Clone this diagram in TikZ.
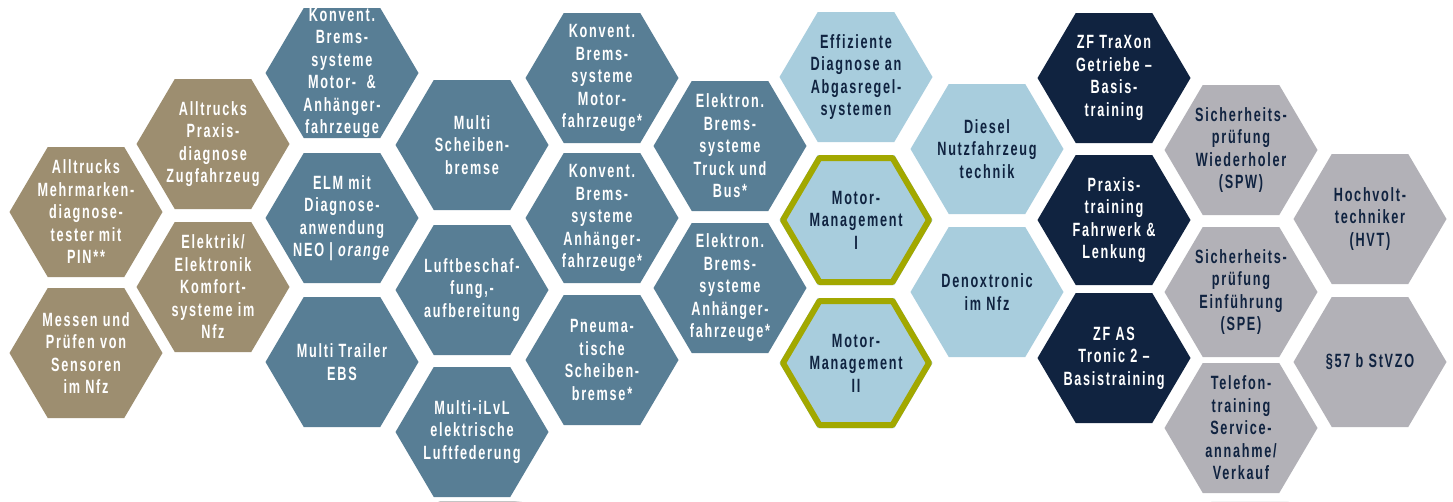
\documentclass[tikz,border=0pt]{standalone}
\usepackage{fontspec}
\setmainfont{Liberation Sans}[FakeStretch=0.66, LetterSpace=9]
\definecolor{tanc}{RGB}{157,142,112}
\definecolor{steelc}{RGB}{88,126,149}
\definecolor{lightc}{RGB}{168,205,221}
\definecolor{navyc}{RGB}{16,35,64}
\definecolor{grayc}{RGB}{178,177,183}
\definecolor{olivec}{RGB}{162,168,0}
\pgfdeclarelayer{shadowlayer}
\pgfsetlayers{shadowlayer,main}
\tikzset{
  hexlabel/.style={align=center, font=\bfseries\fontsize{19.2}{22.5}\selectfont, inner sep=0pt},
  tanhex/.style={fill=tanc},
  steelhex/.style={fill=steelc},
  lighthex/.style={fill=lightc},
  navyhex/.style={fill=navyc},
  grayhex/.style={fill=grayc},
  ringline/.style={draw=olivec, line width=6pt, line join=round},
}
\newcommand{\hexcell}[6]{%
  \begin{scope}[shift={(#2,#3)}]
    \begin{pgfonlayer}{shadowlayer}
      \foreach \s/\o in {9/0.04,8/0.045,7/0.05,6/0.055,5/0.06,4/0.06,3/0.06,2/0.06}{
        \fill[black,opacity=\o] (-76.5+\s,\s) -- (-38.25+\s,-65+\s) -- (38.25+\s,-65+\s) -- (76.5+\s,\s) -- (38.25+\s,65+\s) -- (-38.25+\s,65+\s) -- cycle;}
    \end{pgfonlayer}
    \fill[#4] (-76.5,0) -- (-38.25,-65) -- (38.25,-65) -- (76.5,0) -- (38.25,65) -- (-38.25,65) -- cycle;
    \node[hexlabel, text=#5] (#1) at (0,0) {#6};
  \end{scope}}
\newcommand{\hexring}[2]{%
  \begin{scope}[shift={(#1,#2)}]
    \draw[ringline] (-73,0) -- (-36.5,-62) -- (36.5,-62) -- (73,0) -- (36.5,62) -- (-36.5,62) -- cycle;
  \end{scope}}
\begin{document}
\begin{tikzpicture}[x=1pt,y=-1pt]
\useasboundingbox (0,0) rectangle (1453,501);
\fill[white] (0,0) rectangle (1453,501);
% column 0
\hexcell{a1}{86}{212}{tanhex}{white}{Alltrucks\\Mehrmarken-\\diagnose-\\tester mit\\PIN**}
\hexcell{a2}{86}{353}{tanhex}{white}{Messen und\\Prüfen von\\Sensoren\\im Nfz}
% column 1
\hexcell{b1}{213}{144}{tanhex}{white}{Alltrucks\\Praxis-\\diagnose\\Zugfahrzeug}
\hexcell{b2}{213}{287}{tanhex}{white}{Elektrik/\\Elektronik\\Komfort-\\systeme im\\Nfz}
% column 2
\hexcell{c1}{342}{73}{steelhex}{white}{Konvent.\\Brems-\\systeme\\Motor-\ \ \&\\Anhänger-\\fahrzeuge}
\hexcell{c2}{342}{218}{steelhex}{white}{ELM mit\\Diagnose-\\anwendung\\NEO | \textit{orange}}
\hexcell{c3}{342}{362}{steelhex}{white}{Multi Trailer\\EBS}
% column 3
\hexcell{d1}{472}{145}{steelhex}{white}{Multi\\Scheiben-\\bremse}
\hexcell{d2}{472}{290}{steelhex}{white}{Luftbeschaf-\\fung,-\\aufbereitung}
\hexcell{d3}{472}{432}{steelhex}{white}{Multi-iLvL\\elektrische\\Luftfederung}
% column 4
\hexcell{e1}{602}{78}{steelhex}{white}{Konvent.\\Brems-\\systeme\\Motor-\\fahrzeuge*}
\hexcell{e2}{602}{218}{steelhex}{white}{Konvent.\\Brems-\\systeme\\Anhänger-\\fahrzeuge*}
\hexcell{e3}{602}{360}{steelhex}{white}{Pneuma-\\tische\\Scheiben-\\bremse*}
% column 5
\hexcell{f1}{730}{146}{steelhex}{white}{Elektron.\\Brems-\\systeme\\Truck und\\Bus*}
\hexcell{f2}{730}{288}{steelhex}{white}{Elektron.\\Brems-\\systeme\\Anhänger-\\fahrzeuge*}
% column 6
\hexcell{g1}{856}{77}{lighthex}{navyc}{Effiziente\\Diagnose an\\Abgasregel-\\systemen}
\hexcell{g2}{856}{220}{lighthex}{navyc}{Motor-\\Management\\I}
\hexring{856}{220}
\hexcell{g3}{856}{363}{lighthex}{navyc}{Motor-\\Management\\II}
\hexring{856}{363}
% column 7
\hexcell{h1}{987}{149}{lighthex}{navyc}{Diesel\\Nutzfahrzeug\\technik}
\hexcell{h2}{987}{292}{lighthex}{navyc}{Denoxtronic\\im Nfz}
% column 8
\hexcell{i1}{1114}{78}{navyhex}{white}{ZF TraXon\\Getriebe –\\Basis-\\training}
\hexcell{i2}{1114}{220}{navyhex}{white}{Praxis-\\training\\Fahrwerk \&\\Lenkung}
\hexcell{i3}{1114}{358}{navyhex}{white}{ZF AS\\Tronic 2 –\\Basistraining}
% column 9
\hexcell{j1}{1241}{150}{grayhex}{navyc}{Sicherheits-\\prüfung\\Wiederholer\\(SPW)}
\hexcell{j2}{1241}{292}{grayhex}{navyc}{Sicherheits-\\prüfung\\Einführung\\(SPE)}
\hexcell{j3}{1241}{428}{grayhex}{navyc}{Telefon-\\training\\Service-\\annahme/\\Verkauf}
% column 10
\hexcell{k1}{1370}{219}{grayhex}{navyc}{Hochvolt-\\techniker\\(HVT)}
\hexcell{k2}{1370}{362}{grayhex}{navyc}{§57 b StVZO}
\end{tikzpicture}
\end{document}
